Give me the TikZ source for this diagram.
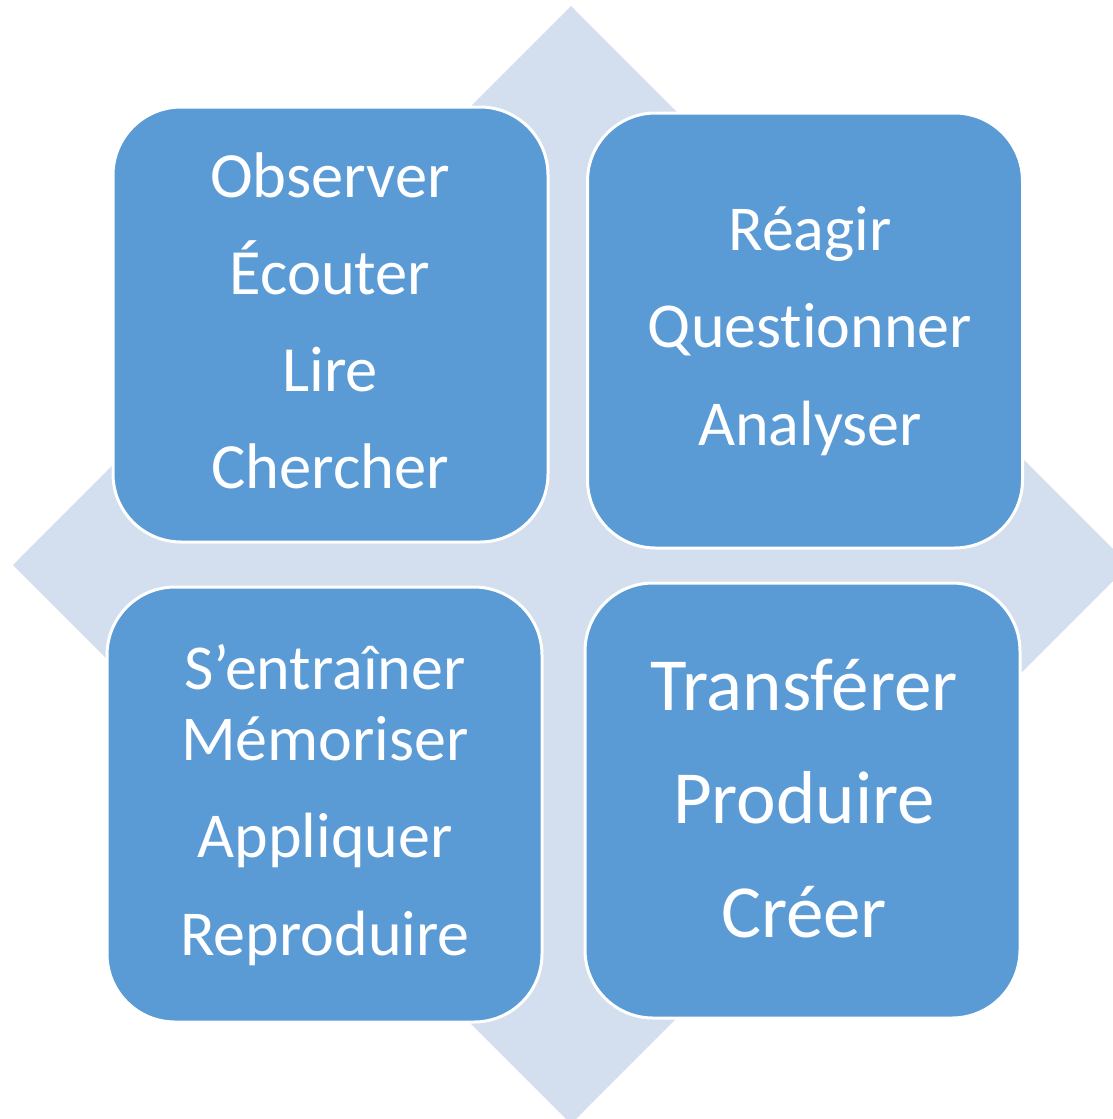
\documentclass[tikz,border=0pt]{standalone}
\usepackage{fontspec}
\setmainfont{Carlito}[Ligatures=NoCommon]
\usetikzlibrary{positioning}
\definecolor{tileblue}{HTML}{5B9BD5}
\definecolor{diamondblue}{HTML}{D3DEEF}
\tikzset{
  tile/.style={draw=white, line width=3pt, fill=tileblue, rounded corners=68pt,
    minimum width=435pt, minimum height=435pt, inner sep=0pt},
  words/.style={text=white, align=center, anchor=base, inner sep=0pt},
}
\begin{document}
\begin{tikzpicture}[x=1pt,y=-1pt]
    \useasboundingbox (0,0) rectangle (1112,1119);

    % Diamond behind the tiles
    \fill[diamondblue] (571,6) -- (1129,565) -- (571,1124) -- (13,565) -- cycle;

    % Tiles
    \node[tile] (observe) at (330.5,324.5) {};
    \node[tile] (react) at (805,330.5) {};
    \node[tile] (practise) at (324.5,804.5) {};
    \node[tile] (transfer) at (802.5,800.5) {};

    % Words (base = last line)
    \node[words, font=\fontsize{64.5}{97}\selectfont] (observetext) at (330,488) {Observer\\Écouter\\Lire\\Chercher};
    \node[words, font=\fontsize{64}{97.5}\selectfont] (reacttext) at (810,445) {Réagir\\Questionner\\Analyser};
    \node[words, font=\fontsize{64}{97.5}\selectfont] (practisetext) at (325,955) {S’entraîner\\[-27pt]Mémoriser\\Appliquer\\Reproduire};
    \node[words, font=\fontsize{75}{113.5}\selectfont] (transfertext) at (804,937) {Transférer\\Produire\\Créer};
\end{tikzpicture}
\end{document}
